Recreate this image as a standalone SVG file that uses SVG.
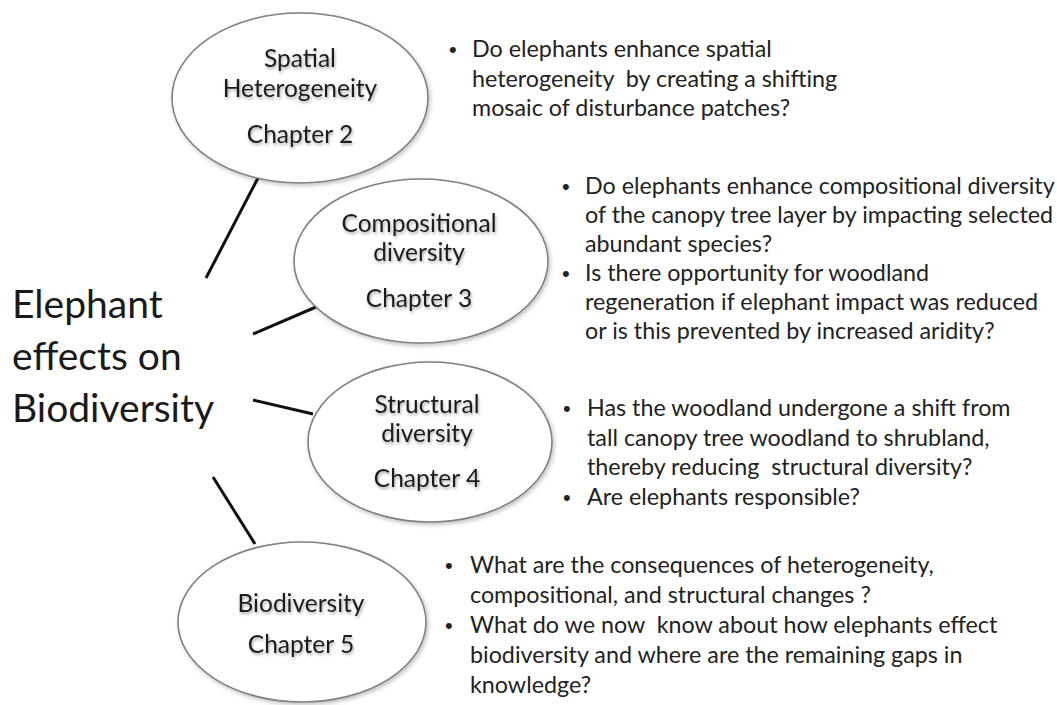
<svg xmlns="http://www.w3.org/2000/svg" width="1057" height="705" viewBox="0 0 1057 705">
<defs>
<filter id="eshadow" x="-10%" y="-10%" width="125%" height="130%">
<feDropShadow dx="1.5" dy="2" stdDeviation="2" flood-color="#000" flood-opacity="0.25"/>
</filter>
<filter id="tshadow" x="-10%" y="-30%" width="120%" height="170%">
<feDropShadow dx="1" dy="2" stdDeviation="1.5" flood-color="#000" flood-opacity="0.35"/>
</filter>
</defs>
<style>
.node ellipse{fill:#fff;stroke:#808080;stroke-width:1.6;filter:url(#eshadow)}
.nt{font-family:Lato,"Open Sans","Liberation Sans",sans-serif;font-size:24.5px;fill:#1e1e1e;text-anchor:middle;filter:url(#tshadow)}
.conn line{stroke:#111;stroke-width:3;stroke-linecap:butt}
.title{font-family:Lato,"Open Sans","Liberation Sans",sans-serif;font-size:39px;fill:#1a1a1a}
.q{font-family:Lato,"Open Sans","Liberation Sans",sans-serif;font-size:23.3px;fill:#222}
.b{font-family:"Liberation Sans",sans-serif;font-size:22px;fill:#222}
</style>
<rect width="1057" height="705" fill="#fff"/>
<g id="connectors" class="conn">
<line x1="258" y1="178" x2="206" y2="278"/>
<line x1="253" y1="334" x2="316" y2="307"/>
<line x1="253" y1="400" x2="313" y2="414"/>
<line x1="213" y1="477" x2="255" y2="544"/>
</g>
<g id="title">
<text class="title" x="12" y="318">Elephant</text>
<text class="title" x="12" y="370">effects on</text>
<text class="title" x="12" y="422">Biodiversity</text>
</g>
<g id="node-spatial" class="node">
<ellipse cx="300" cy="98" rx="128" ry="85"/>
<text class="nt" x="300" y="67">Spatial</text>
<text class="nt" x="300" y="97">Heterogeneity</text>
<text class="nt" x="300" y="143">Chapter  2</text>
</g>
<g id="node-compositional" class="node">
<ellipse cx="421" cy="261" rx="127" ry="82"/>
<text class="nt" x="419" y="232">Compositional</text>
<text class="nt" x="419" y="261">diversity</text>
<text class="nt" x="419" y="307">Chapter  3</text>
</g>
<g id="node-structural" class="node">
<ellipse cx="430" cy="442" rx="122" ry="80"/>
<text class="nt" x="427" y="413">Structural</text>
<text class="nt" x="427" y="442">diversity</text>
<text class="nt" x="427" y="487">Chapter  4</text>
</g>
<g id="node-biodiversity" class="node">
<ellipse cx="302" cy="622" rx="124" ry="80"/>
<text class="nt" x="301" y="612">Biodiversity</text>
<text class="nt" x="301" y="653">Chapter  5</text>
</g>
<g id="q-spatial">
<text class="b" x="449" y="57">•</text>
<text class="q" x="472" y="57">Do elephants enhance spatial</text>
<text class="q" x="472" y="87" xml:space="preserve">heterogeneity  by creating a shifting</text>
<text class="q" x="472" y="116">mosaic of disturbance patches?</text>
</g>
<g id="q-compositional">
<text class="b" x="562" y="194">•</text>
<text class="q" x="585" y="194">Do elephants enhance compositional diversity</text>
<text class="q" x="585" y="223">of the canopy tree layer by impacting selected</text>
<text class="q" x="585" y="252">abundant species?</text>
<text class="b" x="562" y="281">•</text>
<text class="q" x="585" y="281">Is there opportunity for woodland</text>
<text class="q" x="585" y="310">regeneration if elephant impact was reduced</text>
<text class="q" x="585" y="339">or is this prevented by increased aridity?</text>
</g>
<g id="q-structural">
<text class="b" x="563" y="416">•</text>
<text class="q" x="587" y="416">Has the woodland undergone a shift from</text>
<text class="q" x="587" y="446">tall canopy tree woodland to shrubland,</text>
<text class="q" x="587" y="475" xml:space="preserve">thereby reducing  structural diversity?</text>
<text class="b" x="563" y="505">•</text>
<text class="q" x="587" y="505">Are elephants responsible?</text>
</g>
<g id="q-biodiversity">
<text class="b" x="445" y="573">•</text>
<text class="q" x="470" y="573">What are the consequences of heterogeneity,</text>
<text class="q" x="470" y="603">compositional, and structural changes ?</text>
<text class="b" x="445" y="633">•</text>
<text class="q" x="470" y="633" xml:space="preserve">What do we now  know about how elephants effect</text>
<text class="q" x="470" y="663">biodiversity and where are the remaining gaps in</text>
<text class="q" x="470" y="693">knowledge?</text>
</g>
</svg>
